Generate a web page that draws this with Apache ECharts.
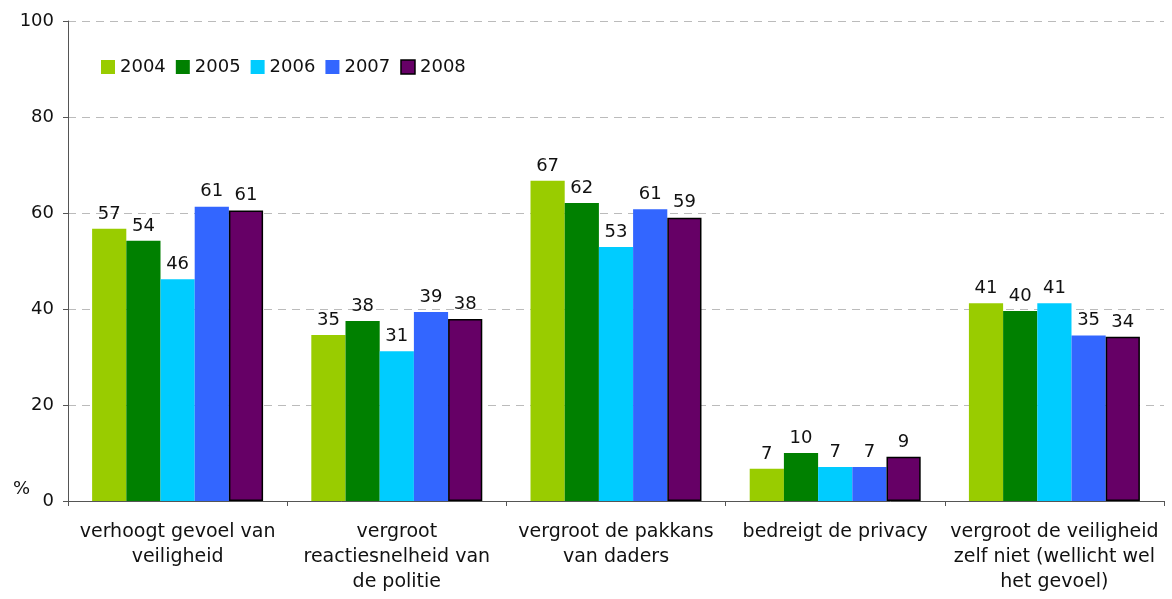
<!DOCTYPE html>
<html>
<head>
<meta charset="utf-8">
<script src="https://cdn.jsdelivr.net/npm/echarts@6/dist/echarts.min.js"></script>
<style>
  html, body { margin: 0; padding: 0; background: #fff; }
  #chart { width: 1172px; height: 599px; }
</style>
</head>
<body>
<div id="chart"></div>
<script>
var categories = [
  'verhoogt gevoel van\nveiligheid',
  'vergroot\nreactiesnelheid van\nde politie',
  'vergroot de pakkans\nvan daders',
  'bedreigt de privacy',
  'vergroot de veiligheid\nzelf niet (wellicht wel\nhet gevoel)'
];
var years = ['2004', '2005', '2006', '2007', '2008'];
var colors = ['#99cc00', '#008000', '#00ccff', '#3366ff', '#660066'];

var v2004 = [56.7, 34.6, 66.7, 6.7, 41.2];
var v2005 = [54.2, 37.5, 62.1, 10.0, 39.6];
var v2006 = [46.2, 31.2, 52.9, 7.1, 41.2];
var v2007 = [61.3, 39.4, 60.8, 7.1, 34.5];
var v2008 = [60.5, 37.9, 59.0, 9.2, 34.2];
var values = [v2004, v2005, v2006, v2007, v2008];

var font = 'DejaVu Sans';

var series = [];
for (var i = 0; i < years.length; i++) {
  series.push({
    name: years[i],
    type: 'bar',
    data: values[i],
    barGap: '0%',
    barCategoryGap: '22%',
    itemStyle: {
      color: colors[i],
      borderColor: i === 4 ? '#000' : colors[i],
      borderWidth: i === 4 ? 1.5 : 0
    },
    label: {
      show: true,
      position: 'top',
      distance: 6,
      color: '#111',
      fontFamily: font,
      fontSize: 18,
      formatter: function (p) { return Math.round(p.value); }
    }
  });
}

var myChart = echarts.init(document.getElementById('chart'));
var option = {
  backgroundColor: '#fff',
  animation: false,
  color: colors,
  legend: {
    left: 96,
    top: 53,
    itemWidth: 14,
    itemHeight: 14,
    itemGap: 10,
    textStyle: { fontFamily: font, fontSize: 18, color: '#111' },
    data: years.map(function (y, i) {
      return {
        name: y,
        icon: 'rect',
        itemStyle: i === 4 ? { borderColor: '#000', borderWidth: 1.5 } : { borderWidth: 0 }
      };
    })
  },
  grid: { left: 68, right: 8, top: 21, bottom: 98 },
  xAxis: {
    type: 'category',
    data: categories,
    axisLine: { lineStyle: { color: '#555', width: 1 } },
    axisTick: { show: true, length: 5, lineStyle: { color: '#555' } },
    axisLabel: {
      interval: 0,
      margin: 19,
      fontFamily: font,
      fontSize: 19,
      lineHeight: 25,
      color: '#111',
      align: 'center'
    }
  },
  yAxis: {
    type: 'value',
    min: 0,
    max: 100,
    interval: 20,
    axisLine: { show: true, lineStyle: { color: '#555', width: 1 } },
    axisTick: { show: true, length: 5, lineStyle: { color: '#555' } },
    axisLabel: { fontFamily: font, fontSize: 18, color: '#111', margin: 14 },
    splitLine: { lineStyle: { color: '#bbb', type: [8, 6] } }
  },
  graphic: [{
    type: 'text',
    left: 13,
    top: 480,
    style: { text: '%', fontFamily: font, fontSize: 18, fill: '#111' }
  }],
  series: series
};
myChart.setOption(option);
</script>
</body>
</html>
